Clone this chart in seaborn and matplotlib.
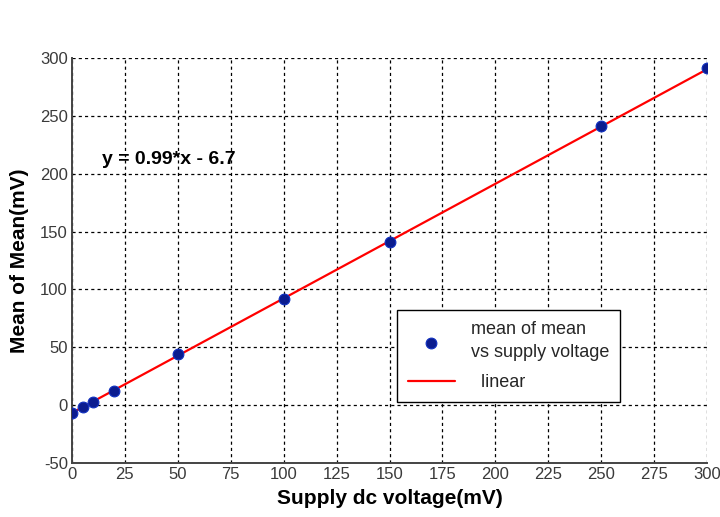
import matplotlib
matplotlib.use("Agg")
import matplotlib.pyplot as plt
import seaborn as sns
import pandas as pd

supply_mv = [0, 5, 10, 20, 50, 100, 150, 250, 300]
mean_of_mean = [-6.5, -2.0, 3.0, 12.5, 44.0, 91.5, 141.0, 241.0, 291.5]
fit_x = [0, 300]
fit_y = [-6.7, 290.3]
x_ticks = [0, 25, 50, 75, 100, 125, 150, 175, 200, 225, 250, 275, 300]
y_ticks = [-50, 0, 50, 100, 150, 200, 250, 300]
equation = "y = 0.99*x - 6.7"

sns.set_theme(style="white")
plt.rcParams['font.family'] = ['Liberation Sans', 'DejaVu Sans']
plt.rcParams['axes.unicode_minus'] = False

fig = plt.figure(figsize=(7.2, 5.17), dpi=100)
ax = fig.add_axes([0.1, 0.1044, 0.882, 0.7834])

df = pd.DataFrame({"x": supply_mv, "y": mean_of_mean})
fit = pd.DataFrame({"x": fit_x, "y": fit_y})

sns.lineplot(data=fit, x="x", y="y", ax=ax, color="#ff0000", linewidth=1.6,
             label="  linear", zorder=2)
sns.scatterplot(data=df, x="x", y="y", ax=ax, color="#0b1c8f", s=60,
                edgecolor="#1030c0", linewidth=0.8,
                label="mean of mean\nvs supply voltage", zorder=3)

ax.set_xlim(0, 300)
ax.set_ylim(-50, 300)
ax.set_xticks(x_ticks)
ax.set_yticks(y_ticks)
ax.set_yticklabels([str(v) for v in y_ticks])
ax.grid(True, color="black", linestyle=(0, (2.5, 2.5)), linewidth=0.9)
ax.tick_params(axis="both", labelsize=12, colors="#3a3a3a", length=4,
               direction="in", pad=3)
for s in ["top", "right"]:
    ax.spines[s].set_visible(False)
for s in ["left", "bottom"]:
    ax.spines[s].set_color("#444444")
    ax.spines[s].set_linewidth(1.4)

ax.set_xlabel("Supply dc voltage(mV)", fontsize=15, fontweight="bold",
              labelpad=5, color="black")
ax.set_ylabel("Mean of Mean(mV)", fontsize=15, fontweight="bold",
              labelpad=8, color="black")

ax.text(14, 208, equation, fontsize=14, fontweight="bold", color="black")

h, l = ax.get_legend_handles_labels()
leg = ax.legend(h[::-1], l[::-1], loc="upper left",
                bbox_to_anchor=(0.512, 0.378),
                fontsize=13, frameon=True, fancybox=False, framealpha=1,
                edgecolor="black", borderpad=0.6, labelspacing=0.7,
                handlelength=2.6, handletextpad=0.9, borderaxespad=0)
for t in leg.get_texts():
    t.set_linespacing(1.5)
leg.get_frame().set_linewidth(1.0)

fig.savefig("out.png", dpi=100)
